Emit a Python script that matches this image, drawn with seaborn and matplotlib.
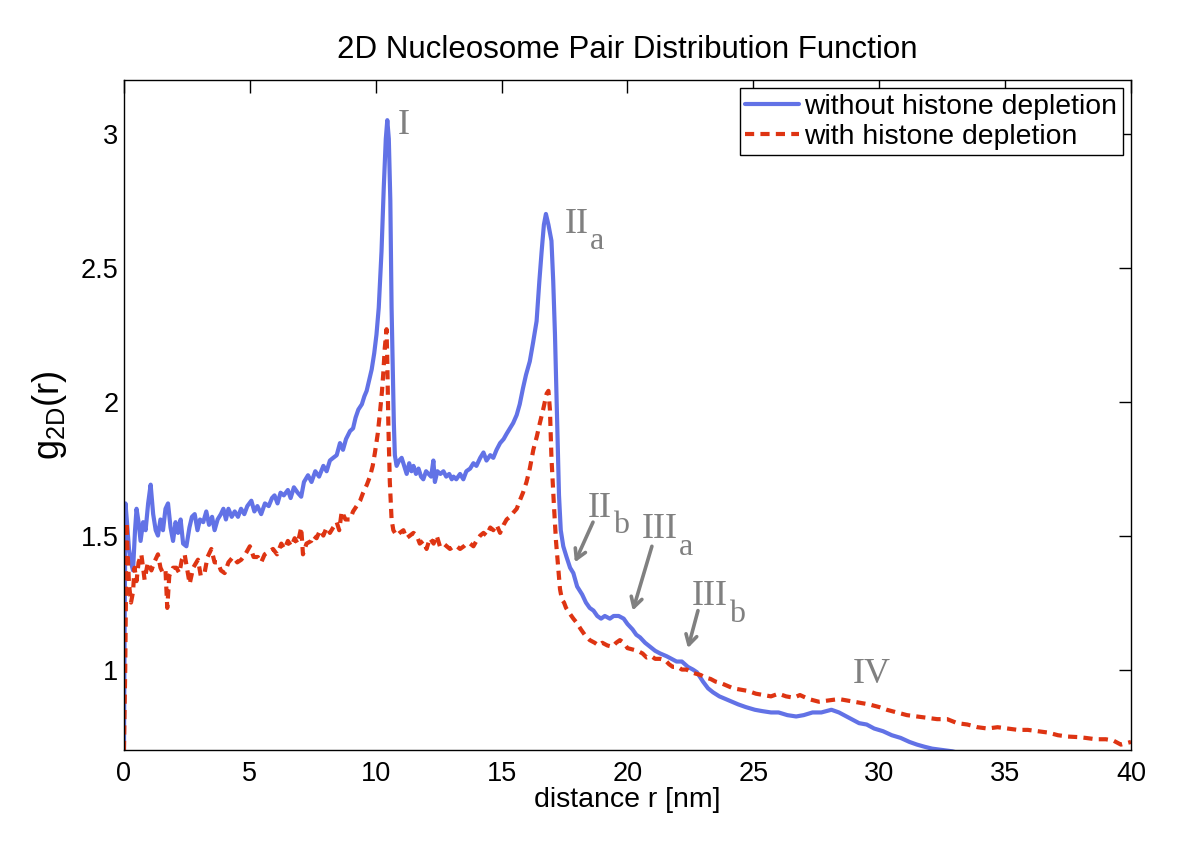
import numpy as np
import pandas as pd
import matplotlib
matplotlib.use("Agg")
import matplotlib.pyplot as plt
import seaborn as sns

# === Data (distance r in nm, g2D(r)) ===
r_without = [
    0.00, 0.03, 0.06, 0.12, 0.20, 0.28, 0.36, 0.44, 0.50, 0.58, 0.66, 0.76, 0.86, 0.96, 1.06, 1.16,
    1.26, 1.35, 1.45, 1.55, 1.65, 1.75, 1.85, 1.95, 2.05, 2.15, 2.25, 2.35, 2.48, 2.60, 2.70, 2.81,
    2.92, 3.02, 3.15, 3.27, 3.38, 3.50, 3.60, 3.72, 3.85, 3.95, 4.05, 4.15, 4.28, 4.40, 4.53, 4.65,
    4.78, 4.90, 5.06, 5.18, 5.30, 5.45, 5.60, 5.75, 5.88, 5.98, 6.10, 6.22, 6.35, 6.51, 6.62, 6.75,
    6.90, 7.04, 7.15, 7.31, 7.45, 7.60, 7.75, 7.92, 8.05, 8.18, 8.31, 8.45, 8.58, 8.70, 8.82, 8.98,
    9.10, 9.20, 9.31, 9.45, 9.55, 9.64, 9.74, 9.84, 9.94, 10.03, 10.12, 10.23, 10.32, 10.40, 10.46,
    10.52, 10.58, 10.63, 10.68, 10.72, 10.76, 10.83, 10.93, 11.03, 11.13, 11.23, 11.33, 11.42, 11.50,
    11.60, 11.70, 11.80, 11.89, 12.00, 12.10, 12.20, 12.29, 12.35, 12.45, 12.57, 12.69, 12.80, 12.92,
    13.02, 13.09, 13.20, 13.35, 13.48, 13.60, 13.75, 13.88, 14.00, 14.15, 14.28, 14.40, 14.55, 14.67,
    14.80, 14.94, 15.08, 15.20, 15.33, 15.46, 15.60, 15.72, 15.85, 15.97, 16.12, 16.25, 16.39, 16.50,
    16.59, 16.68, 16.76, 16.86, 16.98, 17.05, 17.12, 17.21, 17.28, 17.35, 17.45, 17.58, 17.72, 17.85,
    18.00, 18.20, 18.35, 18.50, 18.65, 18.80, 18.95, 19.10, 19.30, 19.45, 19.65, 19.85, 20.00, 20.20,
    20.35, 20.50, 20.70, 20.90, 21.10, 21.30, 21.55, 21.75, 21.95, 22.16, 22.40, 22.60, 22.76, 23.00,
    23.20, 23.40, 23.65, 23.90, 24.15, 24.40, 24.70, 25.06, 25.35, 25.70, 26.00, 26.35, 26.70, 27.00,
    27.35, 27.70, 28.10, 28.40, 28.80, 29.20, 29.50, 29.80, 30.15, 30.50, 30.85, 31.20, 31.50, 31.80,
    32.10, 32.50, 32.90, 33.10,
]
g_without = [
    0.70, 1.20, 1.62, 1.55, 1.45, 1.40, 1.37, 1.52, 1.60, 1.55, 1.48, 1.55, 1.52, 1.62, 1.69, 1.58,
    1.52, 1.50, 1.56, 1.52, 1.60, 1.62, 1.53, 1.48, 1.55, 1.51, 1.56, 1.47, 1.46, 1.53, 1.57, 1.58,
    1.52, 1.56, 1.55, 1.59, 1.54, 1.57, 1.52, 1.56, 1.58, 1.60, 1.56, 1.60, 1.57, 1.59, 1.57, 1.60,
    1.58, 1.61, 1.63, 1.59, 1.61, 1.58, 1.62, 1.61, 1.64, 1.65, 1.62, 1.66, 1.65, 1.67, 1.64, 1.68,
    1.66, 1.645, 1.70, 1.725, 1.70, 1.74, 1.72, 1.76, 1.74, 1.78, 1.79, 1.80, 1.845, 1.82, 1.86, 1.89,
    1.90, 1.94, 1.97, 1.99, 2.02, 2.04, 2.08, 2.12, 2.18, 2.25, 2.35, 2.56, 2.80, 2.98, 3.05,
    2.98, 2.75, 2.35, 2.10, 1.92, 1.80, 1.76, 1.78, 1.79, 1.76, 1.73, 1.77, 1.74, 1.76,
    1.73, 1.75, 1.72, 1.71, 1.74, 1.73, 1.72, 1.78, 1.70, 1.74, 1.73, 1.74, 1.72, 1.73,
    1.71, 1.72, 1.71, 1.73, 1.71, 1.74, 1.75, 1.77, 1.76, 1.79, 1.81, 1.78, 1.80, 1.79,
    1.82, 1.845, 1.86, 1.88, 1.90, 1.92, 1.95, 1.99, 2.05, 2.10, 2.15, 2.22, 2.30, 2.45,
    2.56, 2.66, 2.70, 2.66, 2.60, 2.45, 2.25, 1.92, 1.65, 1.52, 1.46, 1.42, 1.38, 1.36,
    1.31, 1.28, 1.25, 1.23, 1.22, 1.20, 1.19, 1.20, 1.19, 1.20, 1.20, 1.19, 1.17, 1.15,
    1.13, 1.12, 1.10, 1.085, 1.07, 1.06, 1.05, 1.04, 1.03, 1.03, 1.01, 1.00, 0.99, 0.955,
    0.93, 0.915, 0.90, 0.89, 0.88, 0.87, 0.86, 0.85, 0.845, 0.84, 0.84, 0.83, 0.825, 0.83,
    0.84, 0.84, 0.85, 0.84, 0.82, 0.80, 0.795, 0.78, 0.77, 0.755, 0.745, 0.73, 0.72, 0.712,
    0.705, 0.70, 0.695, 0.69,
]

r_with = [
    0.00, 0.05, 0.08, 0.10, 0.14, 0.20, 0.28, 0.36, 0.42, 0.50, 0.58, 0.69, 0.82, 0.95, 1.09, 1.20,
    1.35, 1.45, 1.55, 1.65, 1.72, 1.80, 1.95, 2.08, 2.20, 2.30, 2.41, 2.52, 2.61, 2.75, 2.94, 3.05,
    3.20, 3.32, 3.47, 3.60, 3.73, 3.85, 4.00, 4.15, 4.33, 4.50, 4.66, 4.82, 5.00, 5.15, 5.32, 5.45,
    5.59, 5.75, 5.92, 6.08, 6.25, 6.38, 6.51, 6.65, 6.78, 6.90, 7.04, 7.11, 7.25, 7.44, 7.52, 7.65,
    7.79, 7.92, 8.05, 8.18, 8.31, 8.45, 8.55, 8.65, 8.80, 8.98, 9.10, 9.24, 9.38, 9.50, 9.65, 9.77,
    9.88, 9.97, 10.08, 10.17, 10.25, 10.30, 10.36, 10.43, 10.46, 10.50, 10.56, 10.63, 10.70, 10.83,
    10.95, 11.10, 11.22, 11.36, 11.50, 11.63, 11.75, 11.88, 12.02, 12.15, 12.30, 12.42, 12.55, 12.70,
    12.82, 12.95, 13.10, 13.22, 13.35, 13.50, 13.61, 13.75, 13.88, 14.00, 14.15, 14.28, 14.40, 14.55,
    14.67, 14.80, 14.94, 15.08, 15.20, 15.33, 15.46, 15.60, 15.72, 15.85, 15.99, 16.12, 16.26, 16.40,
    16.52, 16.65, 16.79, 16.86, 16.92, 16.98, 17.04, 17.08, 17.16, 17.25, 17.32, 17.40, 17.48, 17.56,
    17.70, 17.85, 17.98, 18.15, 18.30, 18.50, 18.70, 18.85, 19.00, 19.20, 19.40, 19.55, 19.70, 19.85,
    20.00, 20.20, 20.40, 20.60, 20.76, 20.95, 21.10, 21.30, 21.50, 21.65, 21.80, 22.00, 22.16, 22.35,
    22.55, 22.70, 22.90, 23.10, 23.30, 23.50, 23.70, 23.95, 24.20, 24.50, 24.80, 25.10, 25.40, 25.70,
    26.00, 26.30, 26.60, 26.85, 27.20, 27.60, 28.00, 28.40, 28.70, 29.00, 29.30, 29.60, 30.00, 30.30,
    30.70, 31.10, 31.50, 31.90, 32.30, 32.70, 33.10, 33.50, 33.90, 34.30, 34.70, 35.10, 35.50, 35.90,
    36.30, 36.70, 37.10, 37.50, 37.90, 38.20, 38.60, 39.00, 39.30, 39.60, 39.80, 40.00,
]
g_with = [
    0.70, 1.00, 1.30, 1.55, 1.45, 1.32, 1.25, 1.29, 1.38, 1.33, 1.40, 1.43, 1.335, 1.40, 1.37, 1.40,
    1.43, 1.38, 1.36, 1.37, 1.23, 1.35, 1.38, 1.38, 1.36, 1.41, 1.43, 1.37, 1.32, 1.38, 1.41, 1.35,
    1.36, 1.42, 1.45, 1.40, 1.40, 1.37, 1.36, 1.40, 1.42, 1.40, 1.41, 1.43, 1.46, 1.42, 1.42, 1.40,
    1.43, 1.44, 1.45, 1.43, 1.47, 1.45, 1.48, 1.46, 1.49, 1.47, 1.53, 1.43, 1.47, 1.48, 1.50, 1.49,
    1.52, 1.50, 1.53, 1.51, 1.53, 1.55, 1.52, 1.59, 1.56, 1.56, 1.59, 1.61, 1.63, 1.66, 1.69, 1.72,
    1.76, 1.81, 1.88, 1.96, 2.04, 2.105, 2.20, 2.27, 2.15, 1.92, 1.70, 1.56, 1.52, 1.50,
    1.51, 1.52, 1.49, 1.50, 1.51, 1.50, 1.47, 1.48, 1.45, 1.49, 1.47, 1.50, 1.46, 1.47,
    1.46, 1.45, 1.46, 1.46, 1.45, 1.46, 1.47, 1.47, 1.46, 1.48, 1.50, 1.51, 1.50, 1.53,
    1.52, 1.54, 1.51, 1.54, 1.56, 1.57, 1.585, 1.60, 1.63, 1.66, 1.70, 1.75, 1.82, 1.87,
    1.92, 1.97, 2.03, 2.04, 1.97, 1.79, 1.68, 1.61, 1.48, 1.38, 1.30, 1.26, 1.25, 1.23,
    1.21, 1.19, 1.175, 1.15, 1.13, 1.11, 1.10, 1.09, 1.10, 1.09, 1.085, 1.10, 1.11, 1.10,
    1.08, 1.075, 1.07, 1.06, 1.045, 1.05, 1.04, 1.04, 1.035, 1.02, 1.01, 1.01, 1.00, 1.00,
    0.99, 0.985, 0.98, 0.97, 0.965, 0.955, 0.95, 0.94, 0.93, 0.925, 0.92, 0.91, 0.905, 0.90,
    0.91, 0.90, 0.895, 0.905, 0.89, 0.88, 0.885, 0.89, 0.885, 0.88, 0.875, 0.87, 0.86, 0.85,
    0.84, 0.83, 0.825, 0.82, 0.815, 0.815, 0.80, 0.795, 0.785, 0.78, 0.785, 0.78, 0.775, 0.775,
    0.77, 0.765, 0.755, 0.75, 0.748, 0.745, 0.74, 0.74, 0.735, 0.72, 0.725, 0.73,
]

# peak labels: (numeral, subscript, x, baseline y)
peak_labels = [
    ("I", "", 10.88, 3.00),
    ("II", "a", 17.51, 2.63),
    ("II", "b", 18.43, 1.57),
    ("III", "a", 20.57, 1.49),
    ("III", "b", 22.56, 1.24),
    ("IV", "", 28.95, 0.95),
]
# arrows: (tail x, tail y, tip x, tip y)
arrows = [
    (18.63, 1.55, 17.91, 1.40),
    (20.97, 1.46, 20.21, 1.22),
    (22.80, 1.22, 22.40, 1.08),
]

blue = "#6272E6"
red = "#DE3412"
grey = "#808080"

# === Style ===
sns.set_style("white")
plt.rcParams["font.family"] = ["Liberation Sans", "DejaVu Sans"]
plt.rcParams["text.color"] = "black"
plt.rcParams["axes.labelcolor"] = "black"

fig = plt.figure(figsize=(12, 8.48), dpi=100)
ax = fig.add_axes([0.1033, 0.1156, 0.8392, 0.7901])

df_without = pd.DataFrame({"r": r_without, "g": g_without})
df_with = pd.DataFrame({"r": r_with, "g": g_with})

sns.lineplot(data=df_without, x="r", y="g", ax=ax, color=blue, lw=3.0,
             estimator=None, label="without histone depletion")
sns.lineplot(data=df_with, x="r", y="g", ax=ax, color=red, lw=3.0,
             estimator=None, label="with histone depletion", linestyle=(0, (2.2, 1.5)))

ax.set_xlim(0, 40)
ax.set_ylim(0.7, 3.2)
ax.set_xticks(np.arange(0, 41, 5))
ax.set_yticks([1, 1.5, 2, 2.5, 3])
ax.set_yticklabels(["1", "1.5", "2", "2.5", "3"])
ax.tick_params(direction="in", length=9, width=1, top=True, right=True,
               labelsize=19.5, colors="black")
ax.tick_params(axis="x", pad=8)
ax.tick_params(axis="y", pad=4)
for s in ax.spines.values():
    s.set_color("black")
    s.set_linewidth(1.0)

ax.set_title("2D Nucleosome Pair Distribution Function", fontsize=22.5, pad=16, color="black")
ax.set_xlabel("distance r [nm]", fontsize=20.5, labelpad=0)
ax.set_ylabel(r"g$_\mathregular{2D}$(r)", fontsize=26, labelpad=8)

# --- peak annotations (serif numerals with big, low subscripts) ---
renderer = fig.canvas.get_renderer()
for num, sub, x, y in peak_labels:
    t = ax.text(x, y, num, color=grey, fontsize=26, family="Liberation Serif", va="baseline")
    if sub:
        w = t.get_window_extent(renderer).width * 72 / fig.dpi
        ax.annotate(sub, xy=(x, y), xytext=(w + 0.5, -12), textcoords="offset points",
                    color=grey, fontsize=23, family="Liberation Serif", va="baseline")
for x0, y0, x1, y1 in arrows:
    ax.annotate("", xy=(x1, y1), xytext=(x0, y0),
                arrowprops=dict(arrowstyle="->,head_length=0.7,head_width=0.4",
                                color=grey, lw=2.6, shrinkA=0, shrinkB=0))

leg = ax.legend(loc="upper right", fontsize=20.4, frameon=True, fancybox=False,
                framealpha=1, edgecolor="black", handlelength=1.9, handletextpad=0.18,
                borderpad=0.2, labelspacing=0.15, borderaxespad=0.28)
leg.get_frame().set_linewidth(1.0)

fig.savefig("out.png", dpi=100)
